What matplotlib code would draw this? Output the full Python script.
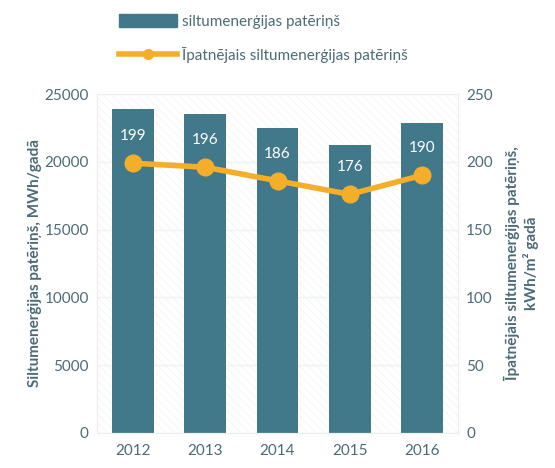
import matplotlib.pyplot as plt
import numpy as np

plt.rcParams['font.family'] = ['Lato', 'DejaVu Sans']
plt.rcParams['hatch.linewidth'] = 0.5

years = ['2012', '2013', '2014', '2015', '2016']
consumption = [23890, 23520, 22480, 21230, 22850]
specific = [199, 196, 186, 176, 190]

bar_col = '#41788A'
line_col = '#F5AE2A'
txt_col = '#4A6B78'

fig = plt.figure(figsize=(5.55, 4.68), dpi=100)
ax = fig.add_axes([0.175, 0.075, 0.65, 0.724])
ax2 = ax.twinx()

# faint hatched background
ax.patch.set_facecolor('white')
ax.patch.set_hatch('\\\\\\\\')
ax.patch.set_edgecolor('#F3F3F3')
ax.patch.set_linewidth(0)

x = np.arange(len(years))
ax.bar(x, consumption, width=0.58, color=bar_col, zorder=2)
ax.set_xlim(-0.5, len(years) - 0.5)
ax.set_ylim(0, 25000)
ax.set_yticks(np.arange(0, 25001, 5000))
ax.yaxis.grid(True, color='#EEF2F2', linewidth=1)
ax.set_axisbelow(True)

ax2.plot(x, specific, color=line_col, linewidth=4, marker='o', markersize=12, zorder=3)
ax2.set_ylim(0, 250)
ax2.set_yticks(np.arange(0, 251, 50))
for xi, v in zip(x, specific):
    ax2.text(xi, v + 20, str(v), ha='center', va='center',
             color='white', fontsize=11, zorder=4)

for a in (ax, ax2):
    for s in a.spines.values():
        s.set_color('#EEEEEE')
    a.tick_params(colors=txt_col, labelsize=11, length=0, pad=6)

ax.set_xticks(x)
ax.set_xticklabels(years)
ax.tick_params(axis='x', pad=8)

ax.set_ylabel('Siltumenerģijas patēriņš, MWh/gadā', color=txt_col,
              fontsize=11, fontweight='bold', labelpad=2)
ax2.set_ylabel('Īpatnējais siltumenerģijas patēriņš,\nkWh/m² gadā', color=txt_col,
               fontsize=11, fontweight='bold', labelpad=8)

# legend
from matplotlib.patches import Patch
from matplotlib.lines import Line2D
handles = [Patch(color=bar_col),
           Line2D([0], [0], color=line_col, lw=4, marker='o', markersize=7)]
labels = ['siltumenerģijas patēriņš', 'Īpatnējais siltumenerģijas patēriņš']
leg = fig.legend(handles, labels, loc='upper left', bbox_to_anchor=(0.19, 1.0),
                 frameon=False, fontsize=11, labelcolor=txt_col,
                 handlelength=3.8, handleheight=1.0, labelspacing=1.2,
                 handletextpad=0.3)

fig.savefig('out.png', dpi=100)
